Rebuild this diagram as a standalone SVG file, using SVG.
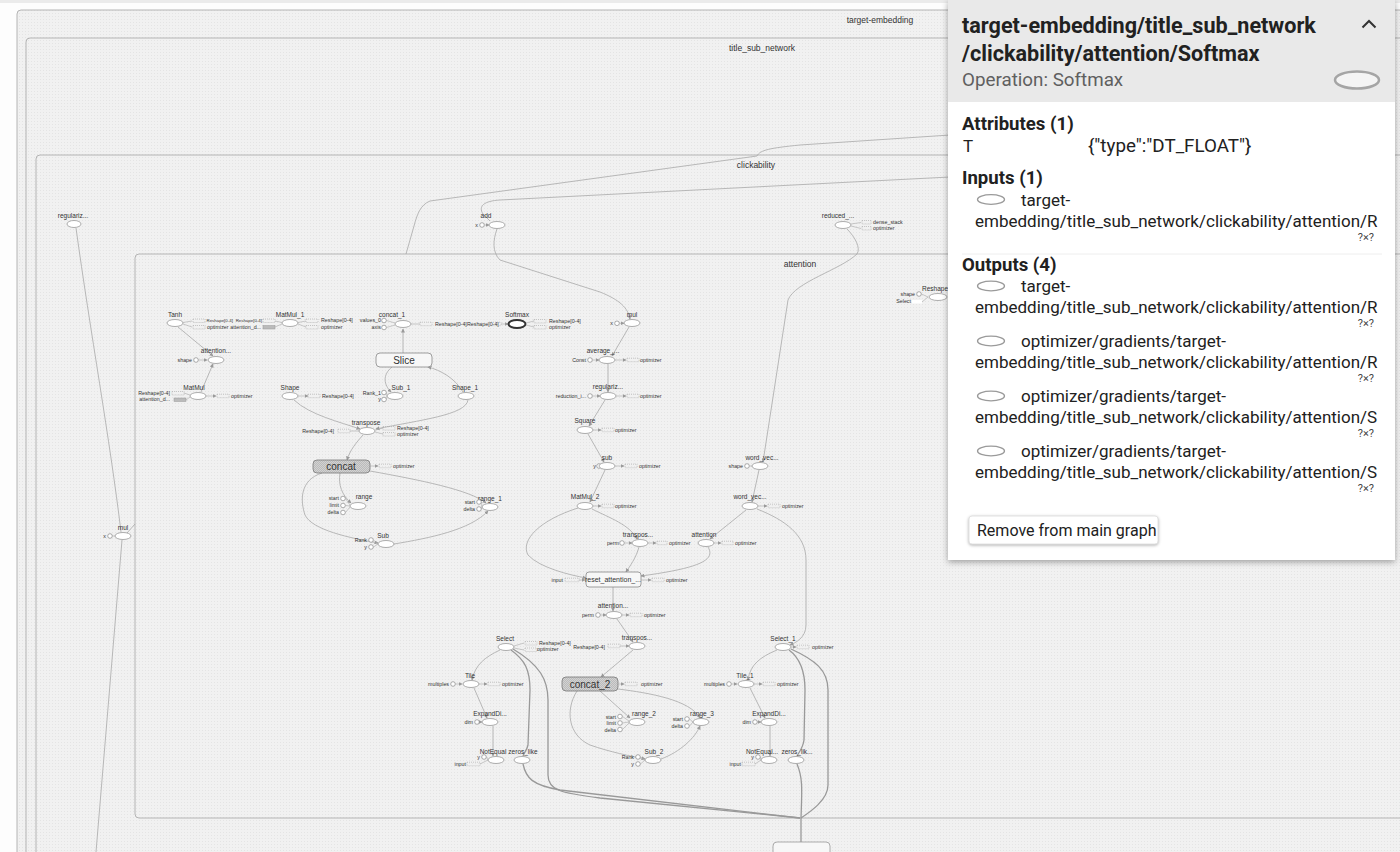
<svg xmlns="http://www.w3.org/2000/svg" width="1400" height="852" viewBox="0 0 1400 852">
<defs>
<style>
.box{fill:url(#bg);stroke:#b4b4b4;stroke-width:1}
.bl{font:8.5px "Liberation Sans",Arial,sans-serif;fill:#333;text-anchor:middle}
.n{fill:#fff;stroke:#999;stroke-width:.8}
.t{font:6.5px "Liberation Sans",Arial,sans-serif;fill:#333;text-anchor:middle}
.s{font:5.3px "Liberation Sans",Arial,sans-serif;fill:#333}
.se{font:5.3px "Liberation Sans",Arial,sans-serif;fill:#333;text-anchor:end}
.d{fill:none;stroke:#aaa;stroke-width:.6;stroke-dasharray:1 1}
.dg{fill:#bbb;stroke:#999;stroke-width:.5}
.c{fill:#fff;stroke:#777;stroke-width:.6}
.l{fill:none;stroke:#aaa;stroke-width:.6}
.e{fill:none;stroke:#a8a8a8;stroke-width:.8}
.ew{fill:none;stroke:#999;stroke-width:1.3}
.meta{fill:#f7f7f7;stroke:#888;stroke-width:.8}
.hat{fill:url(#h);stroke:#777;stroke-width:.8}
.ml{font:10px "Liberation Sans",Arial,sans-serif;fill:#333;text-anchor:middle}
.pt{font:bold 21.6px Roboto,"Liberation Sans",sans-serif;fill:#212121}
.pb{font:17px Roboto,"Liberation Sans",sans-serif;fill:#212121}
.ph{font:bold 18.6px Roboto,"Liberation Sans",sans-serif;fill:#212121}
.pq{font:11px Roboto,"Liberation Sans",sans-serif;fill:#444}
.pe{fill:#fff;stroke:#9a9a9a;stroke-width:1.3}
</style>
<pattern id="bg" width="3" height="3" patternUnits="userSpaceOnUse"><rect width="3" height="3" fill="#f1f1f1"/><rect x="1" y="1" width="1" height="1" fill="#e4e4e4"/></pattern>
<pattern id="h" width="2" height="2" patternUnits="userSpaceOnUse"><rect width="2" height="2" fill="#d2d2d2"/><path d="M0 2L2 0" stroke="#a5a5a5" stroke-width=".5"/></pattern>
<marker id="a" markerWidth="4" markerHeight="4" refX="3.5" refY="2" orient="auto" markerUnits="userSpaceOnUse"><path d="M0 0L4 2L0 4z" fill="#999"/></marker>
<filter id="sh" x="-5%" y="-5%" width="110%" height="110%"><feDropShadow dx="0" dy="2" stdDeviation="3" flood-color="#000" flood-opacity=".35"/></filter>
</defs>
<rect width="1400" height="852" fill="#fdfdfd"/>
<rect width="1400" height="3" fill="#ebebeb"/>

<g id="containers">
<rect class="box" x="17" y="10" width="1420" height="900" rx="4"/>
<text class="bl" x="880" y="23">target-embedding</text>
<rect class="box" x="26" y="38" width="1410" height="880" rx="4"/>
<text class="bl" x="762" y="51">title_sub_network</text>
<rect class="box" x="36" y="155" width="1400" height="760" rx="4"/>
<text class="bl" x="756" y="168">clickability</text>
<rect class="box" x="135" y="254" width="1300" height="564" rx="4"/>
<text class="bl" x="800" y="267">attention</text>
</g>

<g id="connectors">
<path class="e" d="M950 135 L800 145 C770 148 760 150 757 156 L430 201 C420 205 417 215 414 226 L406 254"/>
<path class="e" d="M950 177 L500 200 C484 201 478 206 483 214 L490 221"/>
<path class="e" d="M497 229 C493 240 492 252 500 260 L600 292 C620 300 628 308 630 319" marker-end="url(#a)"/>
<path class="e" d="M847 229 C855 237 861 248 857 254 C840 270 795 282 788 300 L763 462" marker-end="url(#a)"/>
<path class="e" d="M76 228 C90 330 110 440 121 532"/>
<path class="e" d="M122 540 L96 852"/>
<path class="e" d="M127 533 L135 524"/>
<path class="e" d="M178 327 L213 356" marker-end="url(#a)"/>
<path class="e" d="M201 392 L213 364" marker-end="url(#a)"/>
<path class="e" d="M403 353 L403 329" marker-end="url(#a)"/>
<path class="e" d="M392 367 C382 375 384 385 391 392" marker-end="url(#a)"/>
<path class="e" d="M463 392 C455 378 440 370 428 367" marker-end="url(#a)"/>
<path class="e" d="M294 400 C310 415 340 422 360 429" marker-end="url(#a)"/>
<path class="e" d="M468 400 C466 415 420 420 376 429" marker-end="url(#a)"/>
<path class="e" d="M363 435 C356 443 350 450 347 460" marker-end="url(#a)"/>
<path class="e" d="M340 473 C338 485 342 495 351 503" marker-end="url(#a)"/>
<path class="e" d="M370 471 C420 480 470 490 486 503" marker-end="url(#a)"/>
<path class="e" d="M322 473 C300 480 300 500 305 515 C312 530 350 538 378 543" marker-end="url(#a)"/>
<path class="e" d="M394 544 C430 538 470 530 488 511" marker-end="url(#a)"/>
<path class="e" d="M629 327 L612 356" marker-end="url(#a)"/>
<path class="e" d="M608 364 L608 392" marker-end="url(#a)"/>
<path class="e" d="M605 400 L589 426" marker-end="url(#a)"/>
<path class="e" d="M588 434 L604 462" marker-end="url(#a)"/>
<path class="e" d="M605 470 L590 502" marker-end="url(#a)"/>
<path class="e" d="M578 508 C540 520 520 540 528 555 C540 568 570 575 586 578" marker-end="url(#a)"/>
<path class="e" d="M592 509 C610 518 630 525 637 539" marker-end="url(#a)"/>
<path class="e" d="M639 547 C636 558 630 566 626 572" marker-end="url(#a)"/>
<path class="e" d="M708 547 C716 560 700 568 641 576" marker-end="url(#a)"/>
<path class="e" d="M746 510 L710 539" marker-end="url(#a)"/>
<path class="e" d="M759 470 L752 502" marker-end="url(#a)"/>
<path class="e" d="M757 509 C785 520 806 535 806 560 L806 625 C806 638 795 643 790 645" marker-end="url(#a)"/>
<path class="e" d="M613 587 L613 611" marker-end="url(#a)"/>
<path class="e" d="M617 619 L633 642" marker-end="url(#a)"/>
<path class="e" d="M633 650 L601 677" marker-end="url(#a)"/>
<path class="e" d="M600 691 L630 718" marker-end="url(#a)"/>
<path class="e" d="M618 689 C650 693 690 700 700 718" marker-end="url(#a)"/>
<path class="e" d="M577 691 C565 710 568 735 590 745 C610 752 630 756 645 759" marker-end="url(#a)"/>
<path class="e" d="M661 759 C680 752 695 738 700 726" marker-end="url(#a)"/>
<path class="e" d="M500 650 C485 657 475 665 472 680" marker-end="url(#a)"/>
<path class="e" d="M474 688 L487 718" marker-end="url(#a)"/>
<path class="e" d="M493 726 L493 756" marker-end="url(#a)"/>
<path class="ew" d="M511 650 C525 660 530 670 530 690 L528 745 C527 750 524 753 523 756"/>
<path class="ew" d="M513 649 C540 665 548 680 548 700 L548 775 C548 790 560 793 600 798 L800 818"/>
<path class="ew" d="M523 764 C526 778 532 785 560 790 L800 818"/>
<path class="e" d="M777 650 C760 657 750 665 748 680" marker-end="url(#a)"/>
<path class="e" d="M750 688 L765 718" marker-end="url(#a)"/>
<path class="e" d="M770 726 L770 756" marker-end="url(#a)"/>
<path class="ew" d="M789 650 C800 658 805 670 805 690 L804 740 C803 748 799 752 797 756"/>
<path class="ew" d="M797 764 C803 778 802 790 801 818"/>
<path class="ew" d="M791 649 C815 660 828 670 828 690 L828 785 C828 800 810 812 801 818"/>
<path class="ew" d="M801 818 L801 842"/>
</g>

<g id="n-regulariz-top"><text class="t" x="73" y="218">regulariz...</text><ellipse class="n" cx="74" cy="224" rx="7" ry="3.5"/></g>
<g id="n-add"><text class="t" x="486" y="218">add</text><text class="se" x="478" y="227">x</text><circle class="c" cx="482" cy="225" r="2.3"/><path class="l" d="M484.5 225H489" marker-end="url(#a)"/><ellipse class="n" cx="497" cy="225" rx="8" ry="3.5"/></g>
<g id="n-reduced"><text class="t" x="838" y="218">reduced_...</text><ellipse class="n" cx="843" cy="225" rx="8" ry="3.5"/><path class="l" d="M851 224L861 222.5M851 226L861 228.5"/><rect class="d" x="862" y="220.5" width="9" height="3.5"/><rect class="d" x="862" y="226.5" width="9" height="3.5"/><text class="s" x="873" y="224.2">dense_stack</text><text class="s" x="873" y="230.4">optimizer</text></g>
<g id="n-mul-left"><text class="t" x="123" y="530">mul</text><text class="se" x="106" y="538">x</text><circle class="c" cx="110" cy="536" r="2.3"/><path class="l" d="M112.5 536H115"/><ellipse class="n" cx="123" cy="536" rx="8" ry="3.5"/></g>

<g id="n-tanh"><text class="t" x="175" y="317">Tanh</text><ellipse class="n" cx="175" cy="323" rx="8" ry="3.5"/><path class="l" d="M192 321L183 322.5M192 327L183 324"/><rect class="d" x="193" y="319" width="12" height="3.5"/><rect class="d" x="193" y="325.5" width="12" height="3.5"/><text class="s" x="206.5" y="322" style="font-size:4.4px">Reshape[0-4]</text><text class="s" x="207" y="328.5">optimizer</text></g>
<g id="n-matmul1"><text class="t" x="290" y="317">MatMul_1</text><text class="se" x="262" y="322" style="font-size:4.4px">Reshape[0-4]</text><text class="se" x="261" y="328.5">attention_d...</text><rect class="d" x="263" y="319" width="12" height="3.5"/><rect class="dg" x="263" y="325.5" width="12" height="3.5"/><path class="l" d="M275 321L282 322.5M275 327L282 324"/><ellipse class="n" cx="290" cy="323" rx="8" ry="3.5"/><path class="l" d="M298 322.5L306 321M298 324L306 327"/><rect class="d" x="306" y="319" width="12" height="3.5"/><rect class="d" x="306" y="325.5" width="12" height="3.5"/><text class="s" x="321" y="322">Reshape[0-4]</text><text class="s" x="321" y="328.5">optimizer</text></g>
<g id="n-attention-shape"><text class="t" x="216" y="353">attention...</text><text class="se" x="192" y="362">shape</text><circle class="c" cx="196" cy="360" r="2.3"/><path class="l" d="M198.5 360H207" marker-end="url(#a)"/><ellipse class="n" cx="216" cy="360" rx="8" ry="3.5"/></g>
<g id="n-matmul"><text class="t" x="194" y="390">MatMul</text><text class="se" x="170" y="394.5">Reshape[0-4]</text><text class="se" x="170" y="401">attention_d...</text><rect class="d" x="172" y="391.5" width="12" height="3.5"/><rect class="dg" x="174" y="398" width="12" height="3.5"/><path class="l" d="M184 393L190 395M186 400L190 397"/><ellipse class="n" cx="198" cy="396" rx="8" ry="3.5"/><path class="l" d="M206 396H216" marker-end="url(#a)"/><rect class="d" x="217" y="394.2" width="12" height="3.5"/><text class="s" x="231" y="398">optimizer</text></g>

<g id="n-concat1"><text class="t" x="392" y="317">concat_1</text><text class="se" x="381" y="322">values_0</text><text class="se" x="381" y="329">axis</text><circle class="c" cx="384" cy="320.5" r="2.3"/><circle class="c" cx="384" cy="327.5" r="2.3"/><path class="l" d="M386.5 320.5L395 323M386.5 327.5L395 325"/><ellipse class="n" cx="403" cy="324" rx="8" ry="3.5"/><path class="l" d="M411 324H420"/><rect class="d" x="420" y="322.2" width="12" height="3.5"/><text class="s" x="435" y="326">Reshape[0-4]</text></g>
<g id="n-softmax"><text class="s" x="467" y="326">Reshape[0-4]</text><rect class="d" x="489" y="322.2" width="12" height="3.5"/><path class="l" d="M501 324H508" marker-end="url(#a)"/><text class="t" x="517" y="317">Softmax</text><ellipse cx="517" cy="324" rx="8.5" ry="4" fill="#fff" stroke="#333" stroke-width="2"/><path class="l" d="M526 323L534 321M526 325L534 327"/><rect class="d" x="534" y="319.5" width="12" height="3.5"/><rect class="d" x="534" y="325.5" width="12" height="3.5"/><text class="s" x="549" y="322.5">Reshape[0-4]</text><text class="s" x="549" y="329">optimizer</text></g>
<g id="n-slice"><rect class="meta" x="376" y="353" width="56" height="14" rx="4"/><text class="ml" x="404" y="364">Slice</text></g>
<g id="n-sub1"><text class="t" x="401" y="390">Sub_1</text><text class="se" x="381" y="394.5">Rank_1</text><text class="se" x="381" y="401">y</text><circle class="c" cx="384" cy="392.5" r="2.3"/><circle class="c" cx="384" cy="399.5" r="2.3"/><path class="l" d="M386.5 392.5L387 396M386.5 399.5L387 396"/><ellipse class="n" cx="395" cy="396" rx="8" ry="3.5"/></g>
<g id="n-shape1"><text class="t" x="465" y="390">Shape_1</text><ellipse class="n" cx="466" cy="396" rx="8" ry="3.5"/></g>
<g id="n-shape"><text class="t" x="290" y="390">Shape</text><ellipse class="n" cx="290" cy="396" rx="8" ry="3.5"/><path class="l" d="M298 396H308" marker-end="url(#a)"/><rect class="d" x="308" y="394.2" width="12" height="3.5"/><text class="s" x="322" y="398">Reshape[0-4]</text></g>
<g id="n-transpose"><text class="t" x="366" y="425">transpose</text><text class="se" x="334" y="433">Reshape[0-4]</text><rect class="d" x="338" y="429.2" width="12" height="3.5"/><path class="l" d="M350 431H359"/><ellipse class="n" cx="367" cy="431" rx="8" ry="3.5"/><path class="l" d="M375 430L383 428M375 432L383 434"/><rect class="d" x="383" y="426.5" width="12" height="3.5"/><rect class="d" x="383" y="432.5" width="12" height="3.5"/><text class="s" x="397" y="429.5">Reshape[0-4]</text><text class="s" x="397" y="436">optimizer</text></g>
<g id="n-concat"><rect class="hat" x="313" y="460" width="57" height="13" rx="4"/><text class="ml" x="341" y="470">concat</text><path class="l" d="M370 466H378" marker-end="url(#a)"/><rect class="d" x="379" y="464.2" width="12" height="3.5"/><text class="s" x="393" y="468">optimizer</text></g>
<g id="n-range"><text class="t" x="364" y="499">range</text><text class="se" x="339" y="500">start</text><text class="se" x="339" y="507">limit</text><text class="se" x="339" y="514">delta</text><circle class="c" cx="343" cy="498.5" r="2.3"/><circle class="c" cx="343" cy="505.5" r="2.3"/><circle class="c" cx="343" cy="512.5" r="2.3"/><path class="l" d="M345.5 498.5L350 505M345.5 505.5L350 506M345.5 512.5L350 507"/><ellipse class="n" cx="358" cy="506" rx="8" ry="3.5"/></g>
<g id="n-range1"><text class="t" x="490" y="501">range_1</text><text class="se" x="475" y="503.5">start</text><text class="se" x="475" y="510.5">delta</text><circle class="c" cx="479" cy="502" r="2.3"/><circle class="c" cx="479" cy="509" r="2.3"/><path class="l" d="M481.5 502L482 507M481.5 509L482 507"/><ellipse class="n" cx="490" cy="507" rx="8" ry="3.5"/></g>
<g id="n-sub"><text class="t" x="383" y="538">Sub</text><text class="se" x="367" y="541.5">Rank</text><text class="se" x="367" y="548.5">y</text><circle class="c" cx="371" cy="540" r="2.3"/><circle class="c" cx="371" cy="547" r="2.3"/><path class="l" d="M373.5 540L378 544M373.5 547L378 544"/><ellipse class="n" cx="386" cy="544" rx="8" ry="3.5"/></g>

<g id="n-mul"><text class="t" x="632" y="317">mul</text><text class="se" x="613" y="325">x</text><circle class="c" cx="617" cy="323.3" r="2.3"/><path class="l" d="M619.5 323.3H624" marker-end="url(#a)"/><ellipse class="n" cx="632" cy="323" rx="8" ry="3.5"/></g>
<g id="n-average"><text class="t" x="603" y="353">average_...</text><text class="se" x="586" y="362">Const</text><circle class="c" cx="590" cy="360" r="2.3"/><path class="l" d="M592.5 360H599" marker-end="url(#a)"/><ellipse class="n" cx="607" cy="360" rx="8" ry="3.5"/><path class="l" d="M615 360H626" marker-end="url(#a)"/><rect class="d" x="627" y="358.2" width="12" height="3.5"/><text class="s" x="640" y="362">optimizer</text></g>
<g id="n-regulariz"><text class="t" x="608" y="389">regulariz...</text><text class="se" x="586" y="398">reduction_i...</text><circle class="c" cx="590" cy="396" r="2.3"/><path class="l" d="M592.5 396H600" marker-end="url(#a)"/><ellipse class="n" cx="608" cy="396" rx="8" ry="3.5"/><path class="l" d="M616 396H626" marker-end="url(#a)"/><rect class="d" x="627" y="394.2" width="12" height="3.5"/><text class="s" x="640" y="398">optimizer</text></g>
<g id="n-square"><text class="t" x="585" y="423">Square</text><ellipse class="n" cx="585" cy="430" rx="8" ry="3.5"/><path class="l" d="M593 430H601" marker-end="url(#a)"/><rect class="d" x="602" y="428.2" width="12" height="3.5"/><text class="s" x="615" y="432">optimizer</text></g>
<g id="n-sub-mid"><text class="t" x="607" y="460">sub</text><text class="se" x="596" y="468">y</text><circle class="c" cx="599" cy="466" r="2.3"/><path class="l" d="M601.5 466H599"/><ellipse class="n" cx="607" cy="466" rx="8" ry="3.5"/><path class="l" d="M615 466H624" marker-end="url(#a)"/><rect class="d" x="625" y="464.2" width="12" height="3.5"/><text class="s" x="639" y="468">optimizer</text></g>
<g id="n-matmul2"><text class="t" x="585" y="499">MatMul_2</text><ellipse class="n" cx="585" cy="506" rx="8" ry="3.5"/><path class="l" d="M593 506H601" marker-end="url(#a)"/><rect class="d" x="602" y="504.2" width="12" height="3.5"/><text class="s" x="615" y="508">optimizer</text></g>
<g id="n-transpos-a"><text class="t" x="638" y="537">transpos...</text><text class="se" x="619" y="545">perm</text><circle class="c" cx="622" cy="543" r="2.3"/><path class="l" d="M624.5 543H632" marker-end="url(#a)"/><ellipse class="n" cx="640" cy="543" rx="8" ry="3.5"/><path class="l" d="M648 543H656" marker-end="url(#a)"/><rect class="d" x="657" y="541.2" width="10" height="3.5"/><text class="s" x="669" y="545">optimizer</text></g>
<g id="n-attention"><text class="t" x="704" y="537">attention</text><ellipse class="n" cx="706" cy="543" rx="8" ry="3.5"/><path class="l" d="M714 543H721" marker-end="url(#a)"/><rect class="d" x="722" y="541.2" width="11" height="3.5"/><text class="s" x="735" y="545">optimizer</text></g>
<g id="n-wordvec-b"><text class="t" x="750" y="499">word_vec...</text><ellipse class="n" cx="750" cy="506" rx="8" ry="3.5"/><path class="l" d="M758 506H767" marker-end="url(#a)"/><rect class="d" x="768" y="504.2" width="12" height="3.5"/><text class="s" x="782" y="508">optimizer</text></g>
<g id="n-wordvec-a"><text class="t" x="762" y="460">word_vec...</text><text class="se" x="743" y="468">shape</text><circle class="c" cx="747" cy="466" r="2.3"/><path class="l" d="M749.5 466H752"/><ellipse class="n" cx="760" cy="466" rx="8" ry="3.5"/></g>
<g id="n-reset"><text class="se" x="563" y="582">input</text><rect class="d" x="565" y="578.2" width="14" height="3.5"/><path class="l" d="M579 580H585" marker-end="url(#a)"/><rect class="meta" x="586" y="572" width="55" height="15" rx="3"/><text class="t" x="613" y="582" style="font-size:7px">reset_attention_...</text><path class="l" d="M641 580H651" marker-end="url(#a)"/><rect class="d" x="652" y="578.2" width="12" height="3.5"/><text class="s" x="666" y="582">optimizer</text></g>
<g id="n-attention-perm"><text class="t" x="613" y="608">attention...</text><text class="se" x="594" y="617">perm</text><circle class="c" cx="598" cy="615" r="2.3"/><path class="l" d="M600.5 615H606" marker-end="url(#a)"/><ellipse class="n" cx="614" cy="615" rx="8" ry="3.5"/><path class="l" d="M622 615H629" marker-end="url(#a)"/><rect class="d" x="630" y="613.2" width="12" height="3.5"/><text class="s" x="644" y="617">optimizer</text></g>
<g id="n-transpos-b"><text class="t" x="637" y="640">transpos...</text><text class="se" x="605" y="649">Reshape[0-4]</text><rect class="d" x="608" y="644.2" width="12" height="3.5"/><path class="l" d="M620 646H629" marker-end="url(#a)"/><ellipse class="n" cx="637" cy="646" rx="8" ry="3.5"/></g>
<g id="n-concat2"><rect class="hat" x="562" y="677" width="56" height="14" rx="4"/><text class="ml" x="590" y="688">concat_2</text><path class="l" d="M618 684H624" marker-end="url(#a)"/><rect class="d" x="625" y="682.2" width="12" height="3.5"/><text class="s" x="641" y="686">optimizer</text></g>
<g id="n-range2"><text class="t" x="644" y="716">range_2</text><text class="se" x="616" y="718.5">start</text><text class="se" x="616" y="725">limit</text><text class="se" x="616" y="731.5">delta</text><circle class="c" cx="620" cy="716.5" r="2.3"/><circle class="c" cx="620" cy="723" r="2.3"/><circle class="c" cx="620" cy="729.5" r="2.3"/><path class="l" d="M622.5 716.5L629 721M622.5 723L629 722M622.5 729.5L629 723"/><ellipse class="n" cx="637" cy="722" rx="8" ry="3.5"/></g>
<g id="n-range3"><text class="t" x="702" y="716">range_3</text><text class="se" x="683" y="721">start</text><text class="se" x="683" y="728">delta</text><circle class="c" cx="687" cy="719" r="2.3"/><circle class="c" cx="687" cy="726" r="2.3"/><path class="l" d="M689.5 719L693 722M689.5 726L693 722"/><ellipse class="n" cx="701" cy="722" rx="8" ry="3.5"/></g>
<g id="n-sub2"><text class="t" x="654" y="754">Sub_2</text><text class="se" x="634" y="759">Rank</text><text class="se" x="634" y="766">y</text><circle class="c" cx="638" cy="757" r="2.3"/><circle class="c" cx="638" cy="764" r="2.3"/><path class="l" d="M640.5 757L645 760M640.5 764L645 760"/><ellipse class="n" cx="653" cy="760" rx="8" ry="3.5"/></g>

<g id="n-select"><text class="t" x="505" y="641">Select</text><ellipse class="n" cx="506" cy="647" rx="8" ry="3.5"/><path class="l" d="M524 643L514 646M524 650L514 648"/><rect class="d" x="525" y="641.5" width="12" height="3.5"/><rect class="d" x="525" y="648" width="12" height="3.5"/><text class="s" x="539" y="644.5">Reshape[0-4]</text><text class="s" x="537" y="651">optimizer</text></g>
<g id="n-tile"><text class="t" x="470" y="678">Tile</text><text class="se" x="449" y="686">multiples</text><circle class="c" cx="453" cy="684" r="2.3"/><path class="l" d="M455.5 684H462" marker-end="url(#a)"/><ellipse class="n" cx="471" cy="684" rx="8" ry="3.5"/><path class="l" d="M479 684H487" marker-end="url(#a)"/><rect class="d" x="488" y="682.2" width="12" height="3.5"/><text class="s" x="502" y="686">optimizer</text></g>
<g id="n-expand"><text class="t" x="490" y="716">ExpandDi...</text><text class="se" x="473" y="724">dim</text><circle class="c" cx="477" cy="722" r="2.3"/><path class="l" d="M479.5 722H482" marker-end="url(#a)"/><ellipse class="n" cx="490" cy="722" rx="8" ry="3.5"/></g>
<g id="n-notequal"><text class="t" x="493" y="754">NotEqual</text><text class="se" x="480" y="759">y</text><circle class="c" cx="484" cy="757" r="2.3"/><text class="se" x="466" y="766">input</text><rect class="d" x="467" y="762.2" width="13" height="3.5"/><path class="l" d="M486.5 757L488 760M480 764L488 760"/><ellipse class="n" cx="496" cy="760" rx="8" ry="3.5"/></g>
<g id="n-zeros"><text class="t" x="523" y="754">zeros_like</text><ellipse class="n" cx="522" cy="760" rx="8" ry="3.5"/></g>

<g id="n-select1"><text class="t" x="783" y="641">Select_1</text><ellipse class="n" cx="783" cy="647" rx="8" ry="3.5"/><path class="l" d="M791 647H796" marker-end="url(#a)"/><rect class="d" x="797" y="645.2" width="12" height="3.5"/><text class="s" x="812" y="649">optimizer</text></g>
<g id="n-tile1"><text class="t" x="745" y="678">Tile_1</text><text class="se" x="725" y="686">multiples</text><circle class="c" cx="729" cy="684" r="2.3"/><path class="l" d="M731.5 684H737" marker-end="url(#a)"/><ellipse class="n" cx="746" cy="684" rx="8" ry="3.5"/><path class="l" d="M754 684H762" marker-end="url(#a)"/><rect class="d" x="763" y="682.2" width="12" height="3.5"/><text class="s" x="777" y="686">optimizer</text></g>
<g id="n-expand1"><text class="t" x="769" y="716">ExpandDi...</text><text class="se" x="751" y="724">dim</text><circle class="c" cx="755" cy="722" r="2.3"/><path class="l" d="M757.5 722H761" marker-end="url(#a)"/><ellipse class="n" cx="769" cy="722" rx="8" ry="3.5"/></g>
<g id="n-notequal1"><text class="t" x="762" y="754">NotEqual...</text><text class="se" x="754" y="759">y</text><circle class="c" cx="758" cy="757" r="2.3"/><text class="se" x="741" y="766">input</text><rect class="d" x="742" y="762.2" width="13" height="3.5"/><path class="l" d="M760.5 757L761 760M755 764L761 760"/><ellipse class="n" cx="769" cy="760" rx="8" ry="3.5"/></g>
<g id="n-zeros1"><text class="t" x="797" y="754">zeros_lik...</text><ellipse class="n" cx="796" cy="760" rx="8" ry="3.5"/></g>
<g id="n-bottom"><rect x="773" y="842" width="57" height="20" rx="4" fill="#f7f7f7" stroke="#999" stroke-width=".8"/></g>
<g id="n-reshape-right"><text class="t" x="935" y="291">Reshape</text><text class="se" x="915" y="296">shape</text><circle class="c" cx="919" cy="294" r="2.3"/><text class="se" x="911" y="303">Select</text><rect x="912" y="300" width="10" height="3.5" fill="#fff"/><path class="l" d="M921.5 294L928 297M922 302L928 297"/><ellipse class="n" cx="938" cy="297" rx="9" ry="3.5"/></g>

<g id="info-panel">
<rect x="948" y="0" width="447" height="560" fill="#fff" filter="url(#sh)"/>
<rect x="948" y="0" width="447" height="102" fill="#e9e9e9"/>
<text class="pt" x="962" y="33">target-embedding/title_sub_network</text>
<text class="pt" x="962" y="61">/clickability/attention/Softmax</text>
<text x="962" y="86" style="font:18.8px Roboto,'Liberation Sans',sans-serif;fill:#5f5f5f">Operation: Softmax</text>
<path d="M1362.5 27.5L1369 21L1375.5 27.5" fill="none" stroke="#333" stroke-width="2"/>
<ellipse cx="1357" cy="80" rx="22" ry="8.5" fill="#f4f4f4" stroke="#a5a5a5" stroke-width="2.5"/>
<text class="ph" x="962" y="130">Attributes (1)</text>
<text class="pb" x="963" y="152">T</text>
<text x="1088" y="152" style="font:18.8px Roboto,'Liberation Sans',sans-serif;fill:#212121">{"type":"DT_FLOAT"}</text>
<text class="ph" x="962" y="184">Inputs (1)</text>
<ellipse class="pe" cx="991" cy="199.5" rx="13.5" ry="4.8"/>
<text class="pb" x="1021" y="206">target-</text>
<text class="pb" x="975" y="227">embedding/title_sub_network/clickability/attention/R</text>
<text class="pq" x="1374" y="241" text-anchor="end">?×?</text>
<line x1="962" y1="254" x2="1382" y2="254" stroke="#eee" stroke-width="1"/>
<text class="ph" x="962" y="271">Outputs (4)</text>
<ellipse class="pe" cx="991" cy="286" rx="13.5" ry="4.8"/>
<text class="pb" x="1021" y="292">target-</text>
<text class="pb" x="975" y="313">embedding/title_sub_network/clickability/attention/R</text>
<text class="pq" x="1374" y="327" text-anchor="end">?×?</text>
<ellipse class="pe" cx="991" cy="341" rx="13.5" ry="4.8"/>
<text class="pb" x="1021" y="347">optimizer/gradients/target-</text>
<text class="pb" x="975" y="368">embedding/title_sub_network/clickability/attention/R</text>
<text class="pq" x="1374" y="382" text-anchor="end">?×?</text>
<ellipse class="pe" cx="991" cy="396" rx="13.5" ry="4.8"/>
<text class="pb" x="1021" y="402">optimizer/gradients/target-</text>
<text class="pb" x="975" y="423">embedding/title_sub_network/clickability/attention/S</text>
<text class="pq" x="1374" y="437" text-anchor="end">?×?</text>
<ellipse class="pe" cx="991" cy="451" rx="13.5" ry="4.8"/>
<text class="pb" x="1021" y="457">optimizer/gradients/target-</text>
<text class="pb" x="975" y="478">embedding/title_sub_network/clickability/attention/S</text>
<text class="pq" x="1374" y="492" text-anchor="end">?×?</text>
<rect x="969" y="516" width="189" height="28" rx="3" fill="#fff" stroke="#e2e2e2" style="filter:drop-shadow(0 1px 1.5px rgba(0,0,0,.3))"/>
<text x="977" y="536" style="font:16px Roboto,'Liberation Sans',sans-serif;fill:#212121">Remove from main graph</text>
</g>
</svg>
